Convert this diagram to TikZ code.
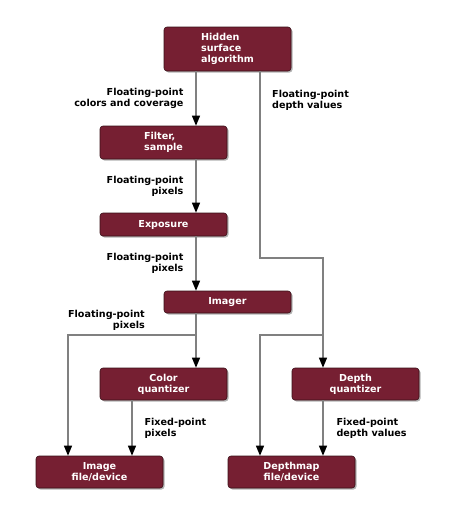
\documentclass[tikz,border=0pt]{standalone}
\usepackage{fontspec}
\setmainfont{DejaVu Sans}
\usepackage{tikz}
\usetikzlibrary{arrows.meta,shadows}

\definecolor{boxred}{HTML}{761F32}
\definecolor{boxedge}{HTML}{3A1018}
\definecolor{linegray}{HTML}{808080}

\tikzset{
  stage/.style={rectangle, rounded corners=3pt, fill=boxred, draw=boxedge,
    line width=0.6pt, text=white, minimum width=127pt, inner sep=0pt,
    font=\fontsize{9.6}{11}\selectfont\bfseries, align=center,
    drop shadow={shadow xshift=1.5pt, shadow yshift=-1.5pt, opacity=0.3, fill=black}},
  conn/.style={draw=linegray, line width=1.2pt,
    -{Triangle[color=black, width=8pt, length=10pt]}},
  lbl/.style={inner sep=0pt, font=\fontsize{9.6}{11}\selectfont\bfseries}
}

\begin{document}
\begin{tikzpicture}[x=1pt,y=-1pt]
\useasboundingbox (0,0) rectangle (448,517);

% stages
\node[stage, minimum height=44pt, align=left] (hsa) at (227.5,49) {Hidden\\surface\\algorithm};
\node[stage, minimum height=33pt, align=left] (flt) at (163.5,142.5) {Filter,\\sample};
\node[stage, minimum height=23pt] (exp) at (163.5,224.5) {Exposure};
\node[stage, minimum height=22pt] (img) at (227.5,302) {Imager};
\node[stage, minimum height=32pt] (cq) at (163.5,384) {Color\\quantizer};
\node[stage, minimum height=32pt] (dq) at (355.5,384) {Depth\\quantizer};
\node[stage, minimum height=32pt] (imf) at (99.5,472) {Image\\file/device};
\node[stage, minimum height=32pt] (dmf) at (291.5,472) {Depthmap\\file/device};

% columns and joints of the lines
\coordinate (cA) at (196,0);
\coordinate (cB) at (68,0);
\coordinate (cC) at (132,0);
\coordinate (cD) at (260,0);
\coordinate (cE) at (323,0);
\coordinate (kR) at (323,258);
\coordinate (jL) at (196,335);
\coordinate (jR) at (323,335);

% colour path
\draw[conn] (hsa.south -| cA) -- node[lbl, left=12pt, align=right] {Floating-point\\colors and coverage} (flt.north -| cA);
\draw[conn] (flt.south -| cA) -- node[lbl, left=12pt, align=right] {Floating-point\\pixels} (exp.north -| cA);
\draw[conn] (exp.south -| cA) -- node[lbl, left=12pt, align=right] {Floating-point\\pixels} (img.north -| cA);
\draw[conn] (img.south -| cA) -- (cq.north -| cA);
\draw[conn] (jL) -| (imf.north -| cB);
\node[lbl, anchor=east, align=right] (lpx) at (145,320) {Floating-point\\pixels};
\draw[conn] (cq.south -| cC) -- node[lbl, right=12pt, align=left] {Fixed-point\\pixels} (imf.north -| cC);

% depth path
\draw[conn] (hsa.south -| cD) |- (kR) -| (dq.north -| cE);
\node[lbl, anchor=west, align=left] (ldv) at (272,100) {Floating-point\\depth values};
\draw[conn] (jR) -| (dmf.north -| cD);
\draw[conn] (dq.south -| cE) -- node[lbl, right=13pt, align=left] {Fixed-point\\depth values} (dmf.north -| cE);
\end{tikzpicture}
\end{document}
